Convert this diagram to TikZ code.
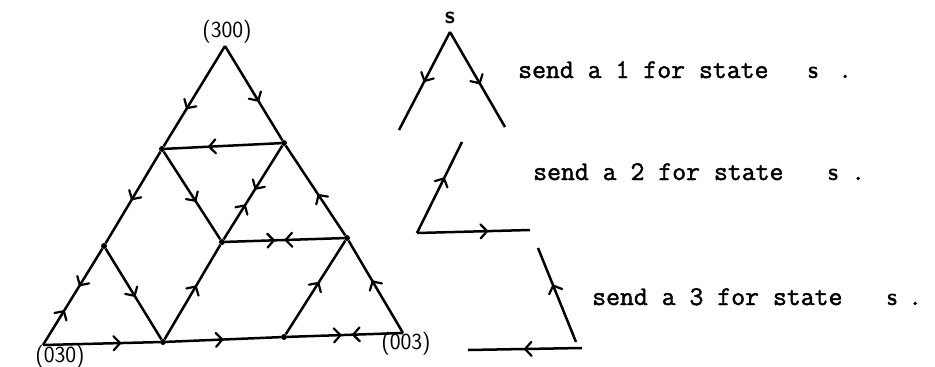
\documentclass[tikz,border=0pt]{standalone}
\usepackage{fontspec}
\newfontfamily\typew{Latin Modern Mono}[AutoFakeBold=1.6]
\usetikzlibrary{decorations.markings}
\tikzset{
  edge/.style={line width=2.5pt},
  fwd/.style={postaction={decorate,decoration={markings,mark=at position #1 with {\draw[line width=2.2pt,line cap=round,line join=round] (-6.5pt,7pt) .. controls (-2.5pt,3.5pt) .. (0pt,0pt) .. controls (-2.5pt,-3.5pt) .. (-6.5pt,-7pt);}}}},
  bwd/.style={postaction={decorate,decoration={markings,mark=at position #1 with {\draw[line width=2.2pt,line cap=round,line join=round] (6.5pt,7pt) .. controls (2.5pt,3.5pt) .. (0pt,0pt) .. controls (2.5pt,-3.5pt) .. (6.5pt,-7pt);}}}},
  dot/.style={circle,fill,inner sep=0pt,minimum size=6pt},
  corner/.style={font=\fontsize{23}{25}\selectfont\sffamily,inner sep=0pt},
  ttline/.style={font=\fontsize{27}{30}\selectfont\typew\bfseries,inner sep=0pt,anchor=base west},
  sbold/.style={font=\fontsize{24}{26}\selectfont\sffamily\bfseries,inner sep=0pt,anchor=base west},
}
\begin{document}
\begin{tikzpicture}[x=1pt,y=-1pt]
\useasboundingbox (0,0) rectangle (935,367);
% triangle vertices
\coordinate (A) at (225,46);
\coordinate (BL) at (43,345);
\coordinate (BR) at (403,333);
\node[dot] (UL) at (162,149) {};
\node[dot] (UR) at (284,143) {};
\node[dot] (ML) at (104,246) {};
\node[dot] (MC) at (222,242) {};
\node[dot] (MR) at (347,238) {};
\node[dot] (BM) at (163,342) {};
\node[dot] (BN) at (284,337) {};
% edges
\draw[edge,fwd=0.62] (A) -- (UL);
\draw[edge,fwd=0.58] (A) -- (UR);
\draw[edge,fwd=0.62] (UR) -- (UL);
\draw[edge,fwd=0.56] (UL) -- (MC);
\draw[edge,fwd=0.46,bwd=0.64] (UR) -- (MC);
\draw[edge,fwd=0.41,bwd=0.51] (MC) -- (MR);
\draw[edge,fwd=0.52] (UL) -- (ML);
\draw[edge,fwd=0.38,bwd=0.65] (ML) -- (BL);
\draw[edge,fwd=0.52] (ML) -- (BM);
\draw[edge,fwd=0.56] (BM) -- (MC);
\draw[edge,fwd=0.66] (BL) -- (BM);
\draw[edge,fwd=0.49] (BM) -- (BN);
\draw[edge,fwd=0.46,bwd=0.57] (BN) -- (BR);
\draw[edge,fwd=0.55] (BN) -- (MR);
\draw[edge,fwd=0.56] (BR) -- (MR);
\draw[edge,fwd=0.45] (MR) -- (UR);
% corner labels
\node[corner] (L300) at (227,32) {(300)};
\node[corner] (L030) at (60,357) {(030)};
\node[corner] (L003) at (406,344) {(003)};
% right side: shape 1
\coordinate (S1) at (450,32);
\coordinate (S1l) at (399,130);
\coordinate (S1r) at (505,127);
\node[sbold,anchor=base] (stop) at (450,23) {s};
\draw[edge,fwd=0.5] (S1) -- (S1l);
\draw[edge,fwd=0.54] (S1) -- (S1r);
% shape 2
\coordinate (S2t) at (462,142);
\coordinate (S2c) at (417,233);
\coordinate (S2e) at (530,230);
\draw[edge,fwd=0.6] (S2c) -- (S2t);
\draw[edge,fwd=0.62] (S2c) -- (S2e);
% shape 3
\coordinate (S3t) at (538,248);
\coordinate (S3b) at (576,342);
\coordinate (S3r) at (582,348);
\coordinate (S3l) at (468,350);
\draw[edge,fwd=0.6] (S3b) -- (S3t);
\draw[edge,fwd=0.5] (S3r) -- (S3l);
% texts
\node[ttline] (t1) at (518,78) {send a 1 for state};
\node[sbold] (s1) at (808,78) {s};
\node[ttline] (d1) at (838,78) {.};
\node[ttline] (t2) at (533,180) {send a 2 for state};
\node[sbold] (s2) at (828,180) {s};
\node[ttline] (d2) at (851,180) {.};
\node[ttline] (t3) at (592,305) {send a 3 for state};
\node[sbold] (s3) at (887,305) {s};
\node[ttline] (d3) at (908,305) {.};
\end{tikzpicture}
\end{document}
